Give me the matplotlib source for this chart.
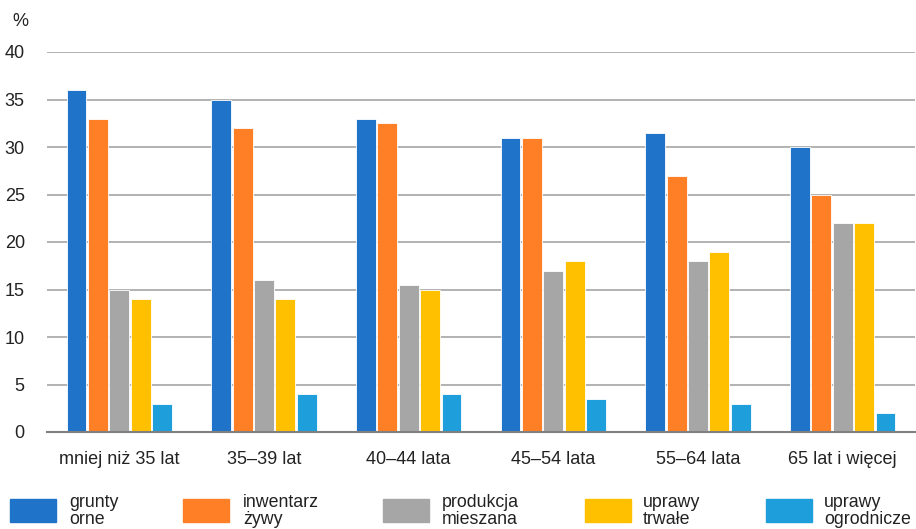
import numpy as np
import matplotlib.pyplot as plt
from matplotlib.patches import Rectangle

plt.rcParams['font.family'] = ['Liberation Sans', 'DejaVu Sans']

groups = ["mniej niż 35 lat", "35–39 lat", "40–44 lata", "45–54 lata",
          "55–64 lata", "65 lat i więcej"]
series = ["grunty\norne", "inwentarz\nżywy", "produkcja\nmieszana",
          "uprawy\ntrwałe", "uprawy\nogrodnicze"]
grunty = [36, 35, 33, 31, 31.5, 30]
inwentarz = [33, 32, 32.5, 31, 27, 25]
mieszana = [15, 16, 15.5, 17, 18, 22]
trwale = [14, 14, 15, 18, 19, 22]
ogrodnicze = [3, 4, 4, 3.5, 3, 2]
colors = ["#1F73C9", "#FF7F27", "#A6A6A6", "#FFC000", "#1E9EDB"]

values = [grunty, inwentarz, mieszana, trwale, ogrodnicze]

fig = plt.figure(figsize=(9.16, 5.29), dpi=100)
ax = fig.add_axes([47/916, 1 - 432/529, 868/916, 380/529])

x = np.arange(len(groups))
step = 0.148
width = 0.138
for i, (vals, c) in enumerate(zip(values, colors)):
    ax.bar(x + (i - 2) * step, vals, width, color=c, edgecolor="white",
           linewidth=0.6, zorder=3)

ax.set_xlim(-0.5, len(groups) - 0.5)
ax.set_ylim(0, 40)
ax.set_yticks(range(0, 41, 5))
ax.set_xticks(x)
ax.set_xticklabels(groups)
ax.yaxis.grid(True, color="#A6A6A6", linewidth=1.2, zorder=0)
ax.set_axisbelow(True)
for s in ["top", "right", "left"]:
    ax.spines[s].set_visible(False)
ax.spines["bottom"].set_color("#808080")
ax.spines["bottom"].set_linewidth(1.5)
ax.spines["bottom"].set_zorder(4)
ax.tick_params(axis="both", length=0, labelsize=13, colors="#222222")
ax.tick_params(axis="y", pad=16)
ax.tick_params(axis="x", pad=14)
for lbl in ax.get_yticklabels():
    lbl.set_horizontalalignment("right")

fig.text(12/916, 1 - 22/529, "%", fontsize=13, color="#222222", va="center")

# legend drawn by hand to match the uneven spacing
patch_x = [10, 183, 383, 585, 766]
text_x = [69, 243, 442, 643, 824]
for px, tx, lab, c in zip(patch_x, text_x, series, colors):
    fig.patches.append(Rectangle((px/916, 1 - 522/529), 46/916, 23/529,
                                 transform=fig.transFigure, color=c))
    fig.text(tx/916, 1 - 511/529, lab, fontsize=12.8, color="#222222",
             va="center", ha="left", linespacing=1.0)

fig.savefig("out.png", dpi=100)
